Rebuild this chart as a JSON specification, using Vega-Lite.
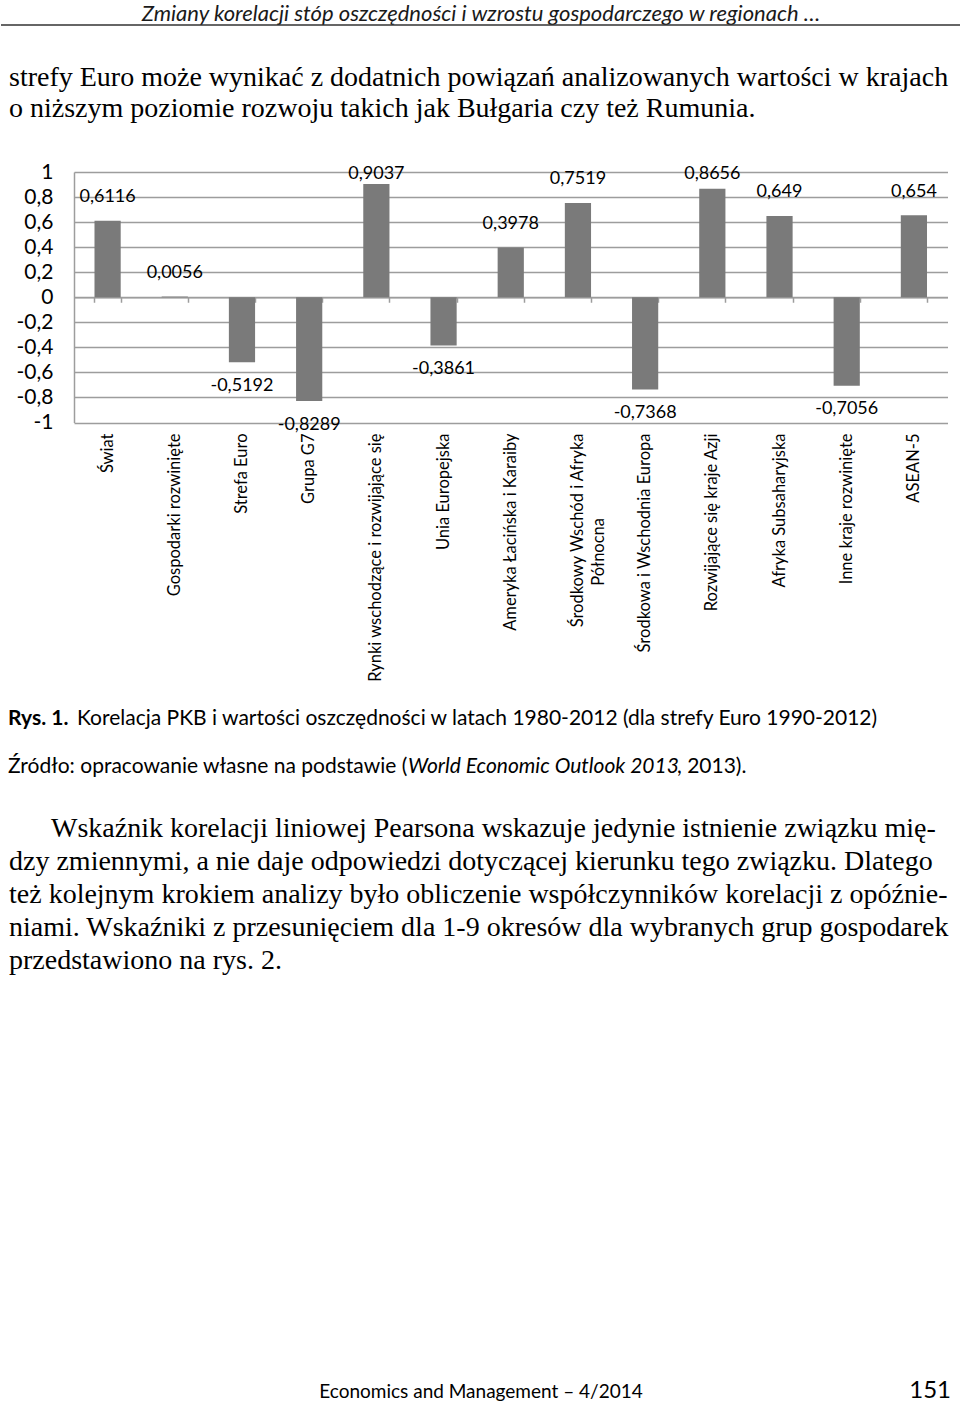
{
  "$schema": "https://vega.github.io/schema/vega-lite/v6.json",
  "padding": 0,
  "background": "white",
  "spacing": 0,
  "bounds": "flush",
  "usermeta": {"embedOptions": {"actions": false}},
  "config": {"view": {"stroke": null}, "font": "Lato"},
  "vconcat": [
    {
      "width": 960,
      "height": 25,
      "data": {"values": [{"t": "Zmiany korelacji stóp oszczędności i wzrostu gospodarczego w regionach …"}]},
      "layer": [
        {
          "mark": {"type": "text", "font": "Lato", "fontStyle": "italic", "fontSize": 22, "baseline": "middle", "align": "center", "dy": 1.5, "color": "#1a1a1a"},
          "encoding": {"text": {"field": "t"}}
        },
        {
          "mark": {"type": "rule", "color": "#333333", "strokeWidth": 1.5},
          "encoding": {"y": {"datum": 0, "type": "quantitative", "scale": {"domain": [0, 1]}, "axis": null}}
        }
      ]
    },
    {
      "width": 960,
      "height": 147,
      "data": {"values": [
        {"line": 1, "t": "strefy Euro może wynikać z dodatnich powiązań analizowanych wartości w krajach"},
        {"line": 2, "t": "o niższym poziomie rozwoju takich jak Bułgaria czy też Rumunia."}
      ]},
      "mark": {"type": "text", "font": "Liberation Serif", "fontSize": 28, "align": "left", "baseline": "alphabetic", "dx": 8, "color": "#000000"},
      "encoding": {
        "x": {"datum": 0, "type": "quantitative", "scale": {"domain": [0, 1]}, "axis": null},
        "y": {"field": "line", "type": "quantitative", "scale": {"domain": [-0.9677, 3.774], "reverse": true, "nice": false, "zero": false}, "axis": null},
        "text": {"field": "t"}
      }
    },
    {
      "width": 960,
      "height": 250.5,
      "data": {"values": [
        {"kraj": "Świat", "v": 0.6116},
        {"kraj": "Gospodarki rozwinięte", "v": 0.0056},
        {"kraj": "Strefa Euro", "v": -0.5192},
        {"kraj": "Grupa G7", "v": -0.8289},
        {"kraj": "Rynki wschodzące i rozwijające się", "v": 0.9037},
        {"kraj": "Unia Europejska", "v": -0.3861},
        {"kraj": "Ameryka Łacińska i Karaiby", "v": 0.3978},
        {"kraj": "Środkowy Wschód i Afryka Północna", "v": 0.7519},
        {"kraj": "Środkowa i Wschodnia Europa", "v": -0.7368},
        {"kraj": "Rozwijające się kraje Azji", "v": 0.8656},
        {"kraj": "Afryka Subsaharyjska", "v": 0.649},
        {"kraj": "Inne kraje rozwinięte", "v": -0.7056},
        {"kraj": "ASEAN-5", "v": 0.654}
      ]},
      "transform": [
        {"calculate": "replace(toString(datum.v), '.', ',')", "as": "lbl"},
        {"calculate": "datum.v >= 0 ? min(datum.v + 0.19, 0.985) : datum.v - 0.19", "as": "ly"}
      ],
      "layer": [
        {
          "mark": {"type": "bar", "color": "#7a7a7a"},
          "encoding": {
            "x": {
              "field": "kraj", "type": "nominal", "sort": null,
              "scale": {"range": [73, 946.5], "paddingInner": 0.61, "paddingOuter": 0.305},
              "axis": {
                "orient": "bottom", "title": null, "domain": false, "ticks": false, "grid": false,
                "labelAngle": -90, "labelPadding": 10.5, "labelFont": "Lato", "labelFontSize": 16.5,
                "labelColor": "#000000", "labelLimit": 400, "labelOverlap": false, "labelLineHeight": 21,
                "labelExpr": "datum.value == 'Środkowy Wschód i Afryka Północna' ? ['Środkowy Wschód i Afryka', 'Północna\u00a0\u00a0\u00a0\u00a0\u00a0\u00a0\u00a0\u00a0\u00a0\u00a0\u00a0\u00a0\u00a0\u00a0\u00a0\u00a0\u00a0\u00a0\u00a0\u00a0\u200b'] : datum.value"
              }
            },
            "y": {
              "field": "v", "type": "quantitative",
              "scale": {"domain": [-1, 1], "nice": false},
              "axis": {
                "title": null, "offset": -73, "values": [-1, -0.8, -0.6, -0.4, -0.2, 0, 0.2, 0.4, 0.6, 0.8, 1],
                "tickCount": 11,
                "labelExpr": "(datum.value < 0 ? '-' : '') + replace(format(abs(datum.value), '.1~f'), '.', ',')",
                "labelOverlap": false, "labelSeparation": 0,
                "grid": true, "gridColor": "#9d9d9d", "gridWidth": 1.5,
                "domain": true, "domainColor": "#9d9d9d", "domainWidth": 1.5,
                "ticks": false, "labelPadding": 21, "labelFont": "Lato", "labelFontSize": 21, "labelColor": "#000000"
              }
            }
          }
        },
        {
          "mark": {"type": "text", "font": "Lato", "fontSize": 18, "baseline": "middle", "align": "center", "color": "#000000"},
          "encoding": {
            "x": {
              "field": "kraj", "type": "nominal", "sort": null,
              "scale": {"range": [73, 946.5], "paddingInner": 0.61, "paddingOuter": 0.305},
              "axis": {
                "orient": "bottom", "offset": -125.25, "title": null, "labels": false, "grid": false,
                "domain": true, "domainColor": "#9d9d9d", "domainWidth": 1.5,
                "ticks": true, "tickBand": "extent", "tickSize": 5, "tickColor": "#9d9d9d", "tickWidth": 1.5
              }
            },
            "y": {
              "field": "ly", "type": "quantitative",
              "scale": {"domain": [-1, 1], "nice": false},
              "axis": {
                "title": null, "offset": -73, "values": [-1, -0.8, -0.6, -0.4, -0.2, 0, 0.2, 0.4, 0.6, 0.8, 1],
                "tickCount": 11,
                "labelExpr": "(datum.value < 0 ? '-' : '') + replace(format(abs(datum.value), '.1~f'), '.', ',')",
                "labelOverlap": false, "labelSeparation": 0,
                "grid": true, "gridColor": "#9d9d9d", "gridWidth": 1.5,
                "domain": true, "domainColor": "#9d9d9d", "domainWidth": 1.5,
                "ticks": false, "labelPadding": 21, "labelFont": "Lato", "labelFontSize": 21, "labelColor": "#000000"
              }
            },
            "text": {"field": "lbl"}
          }
        }
      ],
      "resolve": {"axis": {"x": "independent"}}
    },
    {
      "width": 960,
      "height": 377.5,
      "data": {"values": [
        {"line": 1, "seg": "a", "t": "Rys. 1."},
        {"line": 1, "seg": "b", "t": "Korelacja PKB i wartości oszczędności w latach 1980-2012 (dla strefy Euro 1990-2012)"},
        {"line": 2, "seg": "c", "t": "Źródło: opracowanie własne na podstawie ("},
        {"line": 2, "seg": "d", "t": "World Economic Outlook 2013"},
        {"line": 2, "seg": "e", "t": ", 2013)."}
      ]},
      "encoding": {
        "x": {"datum": 0, "type": "quantitative", "scale": {"domain": [0, 1]}, "axis": null},
        "y": {"field": "line", "type": "quantitative", "scale": {"domain": [-5.302, 2.563], "reverse": true, "nice": false, "zero": false}, "axis": null},
        "text": {"field": "t"}
      },
      "layer": [
        {"transform": [{"filter": "datum.seg == 'a'"}], "mark": {"type": "text", "font": "Lato", "fontSize": 21, "fontWeight": "bold", "align": "left", "baseline": "alphabetic", "dx": 7, "color": "#000000"}},
        {"transform": [{"filter": "datum.seg == 'b'"}], "mark": {"type": "text", "font": "Lato", "fontSize": 21, "align": "left", "baseline": "alphabetic", "dx": 76, "color": "#000000"}},
        {"transform": [{"filter": "datum.seg == 'c'"}], "mark": {"type": "text", "font": "Lato", "fontSize": 21, "align": "left", "baseline": "alphabetic", "dx": 7, "color": "#000000"}},
        {"transform": [{"filter": "datum.seg == 'd'"}], "mark": {"type": "text", "font": "Lato", "fontSize": 21, "fontStyle": "italic", "align": "left", "baseline": "alphabetic", "dx": 407, "color": "#000000"}},
        {"transform": [{"filter": "datum.seg == 'e'"}], "mark": {"type": "text", "font": "Lato", "fontSize": 21, "align": "left", "baseline": "alphabetic", "dx": 676, "color": "#000000"}}
      ]
    },
    {
      "width": 960,
      "height": 203,
      "data": {"values": [
        {"line": 1, "t": "\u200b\u00a0\u00a0\u00a0\u00a0\u00a0\u00a0Wskaźnik korelacji liniowej Pearsona wskazuje jedynie istnienie związku mię-"},
        {"line": 2, "t": "dzy zmiennymi, a nie daje odpowiedzi dotyczącej kierunku tego związku. Dlatego"},
        {"line": 3, "t": "też kolejnym krokiem analizy było obliczenie współczynników korelacji z opóźnie-"},
        {"line": 4, "t": "niami. Wskaźniki z przesunięciem dla 1-9 okresów dla wybranych grup gospodarek"},
        {"line": 5, "t": "przedstawiono na rys. 2."}
      ]},
      "mark": {"type": "text", "font": "Liberation Serif", "fontSize": 28, "align": "left", "baseline": "alphabetic", "dx": 8, "color": "#000000"},
      "encoding": {
        "x": {"datum": 0, "type": "quantitative", "scale": {"domain": [0, 1]}, "axis": null},
        "y": {"field": "line", "type": "quantitative", "scale": {"domain": [-0.0909, 6.0606], "reverse": true, "nice": false, "zero": false}, "axis": null},
        "text": {"field": "t"}
      }
    },
    {
      "width": 960,
      "height": 394,
      "layer": [
        {
          "data": {"values": [{"t": "Economics and Management – 4/2014"}]},
          "mark": {"type": "text", "font": "Lato", "fontSize": 19, "align": "center", "baseline": "alphabetic", "color": "#000000"},
          "encoding": {
            "y": {"datum": 0, "type": "quantitative", "scale": {"domain": [0, 1]}, "axis": null},
            "text": {"field": "t"}
          }
        },
        {
          "data": {"values": [{"t": "151"}]},
          "mark": {"type": "text", "font": "Lato", "fontSize": 24, "align": "right", "baseline": "alphabetic", "dx": -10, "color": "#000000"},
          "encoding": {
            "x": {"datum": 1, "type": "quantitative", "scale": {"domain": [0, 1]}, "axis": null},
            "y": {"datum": 0, "type": "quantitative", "scale": {"domain": [0, 1]}, "axis": null},
            "text": {"field": "t"}
          }
        }
      ]
    }
  ]
}
